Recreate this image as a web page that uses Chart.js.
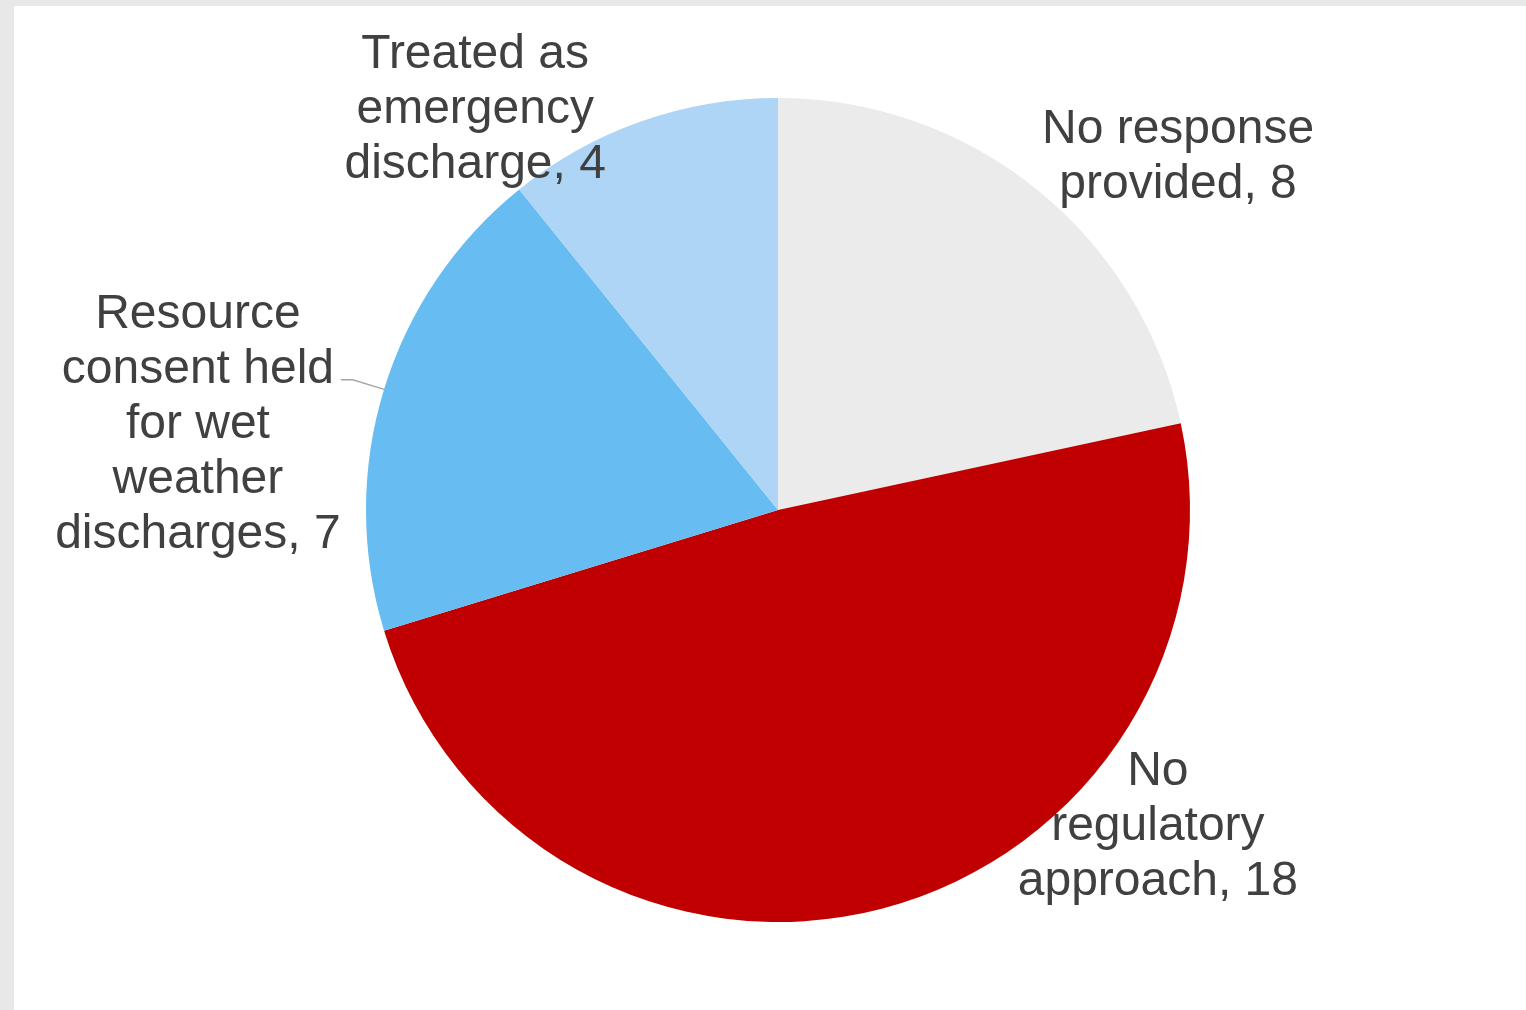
<!DOCTYPE html>
<html>
<head>
<meta charset="utf-8">
<script src="https://cdn.jsdelivr.net/npm/chart.js@4/dist/chart.umd.min.js"></script>
<style>
  html, body { margin: 0; padding: 0; background: #e8e8e8; }
  #wrap { position: absolute; left: 14px; top: 6px; width: 1512px; height: 1004px; background: #fff; }
</style>
</head>
<body>
<div id="wrap"><canvas id="myChart" width="1512" height="1004"></canvas></div>
<script>
var categories = [
    ["No response", "provided"],
    ["No", "regulatory", "approach"],
    ["Resource", "consent held", "for wet", "weather", "discharges"],
    ["Treated as", "emergency", "discharge"]
];
var counts = [8, 18, 7, 4];
var sliceColors = ["#ebebeb", "#c00000", "#67bdf2", "#aed5f5"];

// label centres, in pie radii from the centre
var labelPos = [
    [0.971, -0.855],
    [0.922, 0.769],
    [-1.408, -0.207],
    [-0.735, -0.971]
];

var pieLabels = {
    id: "pieLabels",
    afterDatasetsDraw: function (chart) {
        var ctx = chart.ctx;
        var arcs = chart.getDatasetMeta(0).data;
        var lineH = 55;
        ctx.save();
        ctx.font = "48px 'Liberation Sans', Arial, sans-serif";
        ctx.fillStyle = "#404040";
        ctx.textAlign = "center";
        ctx.textBaseline = "middle";
        arcs.forEach(function (arc, i) {
            var r = arc.outerRadius;
            var lines = categories[i].slice();
            lines[lines.length - 1] += ", " + counts[i];
            var cx = arc.x + labelPos[i][0] * r;
            var cy = arc.y + labelPos[i][1] * r;
            var top = cy - (lines.length - 1) * lineH / 2;
            lines.forEach(function (t, k) {
                ctx.fillText(t, cx, top + k * lineH);
            });
        });

        // leader line for the resource consent slice
        var a = arcs[2];
        var mid = (a.startAngle + a.endAngle) / 2;
        ctx.strokeStyle = "#a6a6a6";
        ctx.lineWidth = 1.5;
        ctx.beginPath();
        ctx.moveTo(a.x - 1.061 * a.outerRadius, a.y - 0.316 * a.outerRadius);
        ctx.lineTo(a.x - 1.032 * a.outerRadius, a.y - 0.316 * a.outerRadius);
        ctx.lineTo(a.x + Math.cos(mid) * a.outerRadius, a.y + Math.sin(mid) * a.outerRadius);
        ctx.stroke();
        ctx.restore();
    }
};

new Chart("myChart", {
    type: "pie",
    data: {
        labels: categories.map(function (c) { return c.join(" "); }),
        datasets: [{
            data: counts,
            backgroundColor: sliceColors,
            borderWidth: 0
        }]
    },
    options: {
        responsive: false,
        animation: false,
        radius: 412,
        layout: { padding: { left: 16, top: 4 } },
        plugins: {
            legend: { display: false },
            tooltip: { enabled: false }
        }
    },
    plugins: [pieLabels]
});
</script>
</body>
</html>
